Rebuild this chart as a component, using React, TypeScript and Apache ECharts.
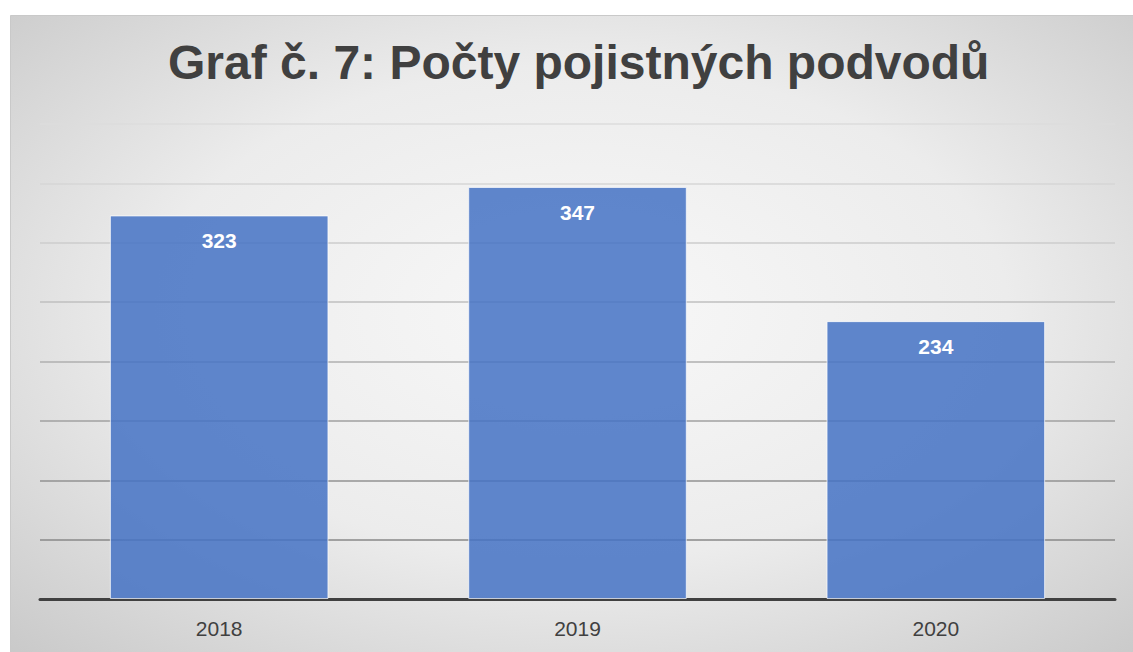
import React, { useEffect, useRef } from "react";
import * as echarts from "echarts";

const titleText = "Graf č. 7: Počty pojistných podvodů";
const categories = ["2018", "2019", "2020"];
const values = [323, 347, 234];
const gridColors = ["#8a8a8a", "#888888", "#929292", "#a0a0a0", "#afafaf", "#bfbfbf", "#cccccc", "#d6d6d6", "#dcdcdc"];

export default function App() {
  const ref = useRef<HTMLDivElement>(null);
  useEffect(() => {
    const chart = echarts.init(ref.current!, null, { renderer: "svg" });
    chart.setOption({
      animation: false,
      graphic: [
        {
          type: "rect",
          z: -10,
          silent: true,
          shape: { x: 10.5, y: 15.5, width: 1140, height: 660 },
          style: {
            fill: new echarts.graphic.RadialGradient(0.5, 0.45, 0.75, [
              { offset: 0, color: "#f8f8f8" },
              { offset: 0.5, color: "#ececec" },
              { offset: 1, color: "#c6c6c6" },
            ]),
            stroke: "#c9c9c9",
            lineWidth: 1,
          },
        },
      ],
      title: {
        text: titleText,
        left: 163,
        top: 33,
        textStyle: {
          fontFamily: "Liberation Sans, Arial, sans-serif",
          fontSize: 48,
          fontWeight: "bold",
          color: "#404040",
        },
      },
      grid: { left: 40, right: 18, top: 124, bottom: 53 },
      xAxis: {
        type: "category",
        data: categories,
        axisLine: { lineStyle: { color: "#404040", width: 3 } },
        axisTick: { show: false },
        axisLabel: {
          color: "#404040",
          fontSize: 21,
          fontFamily: "Liberation Sans, Arial, sans-serif",
          margin: 19,
        },
      },
      yAxis: {
        type: "value",
        min: 0,
        max: 400,
        interval: 50,
        axisLabel: { show: false },
        axisLine: { show: false },
        axisTick: { show: false },
        splitLine: { lineStyle: { color: gridColors, width: 1.6 } },
      },
      series: [
        {
          type: "bar",
          data: values,
          barWidth: "61%",
          z: 1,
          itemStyle: {
            color: "rgba(68,114,196,0.85)",
            borderColor: "rgba(255,255,255,0.7)",
            borderWidth: 1,
          },
          label: {
            show: true,
            position: "insideTop",
            distance: 15,
            color: "#ffffff",
            fontSize: 21,
            fontWeight: "bold",
            fontFamily: "Liberation Sans, Arial, sans-serif",
          },
        },
      ],
    });
    return () => chart.dispose();
  }, []);
  return (
    <div
      ref={ref}
      style={{ position: "absolute", left: 0, top: 0, width: 1133, height: 652, background: "#ffffff" }}
    />
  );
}
